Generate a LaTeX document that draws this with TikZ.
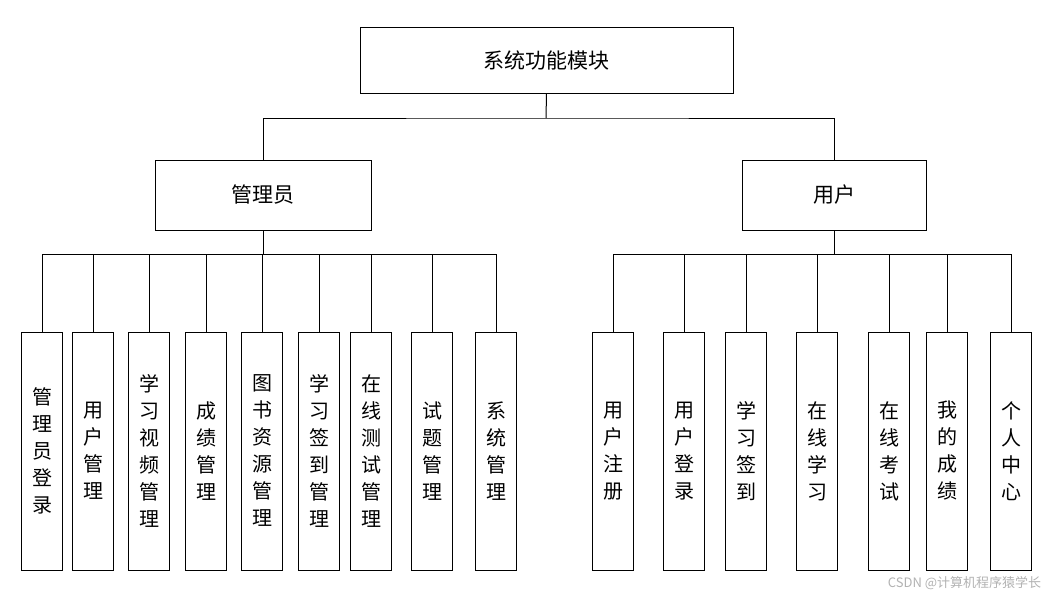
\documentclass[tikz,border=0pt]{standalone}
\usepackage{fontspec}
\setmainfont{Noto Sans CJK SC}
\begin{document}
\begin{tikzpicture}[x=1pt,y=-1pt,line width=1pt,
  box/.style={draw,minimum width=#1,minimum height=0,inner sep=0},
  leaf/.style={draw,minimum width=41pt,minimum height=238pt,inner sep=0,align=center,font=\fontsize{20}{27}\selectfont}]
\useasboundingbox (0,0) rectangle (1049,600);
\node[draw,minimum width=373pt,minimum height=66pt,font=\fontsize{21}{25}\selectfont] (root) at (546.5,60) {系统功能模块};
\node[draw,minimum width=216pt,minimum height=70pt,font=\fontsize{21}{25}\selectfont] (adm) at (263,195) {管理员};
\node[draw,minimum width=184pt,minimum height=70pt,font=\fontsize{21}{25}\selectfont] (usr) at (834,195) {用户};
\coordinate (j) at (546,118);
\draw (root.south) -- (j);
\draw (adm.north) |- (j) -| (usr.north);
\foreach \x/\t [count=\i] in {42/管\\理\\员\\登\\录,93/用\\户\\管\\理,149/学\\习\\视\\频\\管\\理,206/成\\绩\\管\\理,262/图\\书\\资\\源\\管\\理,319/学\\习\\签\\到\\管\\理,371/在\\线\\测\\试\\管\\理,432/试\\题\\管\\理,496/系\\统\\管\\理}{
  \node[leaf] (a\i) at (\x,451) {\t};
  \draw (a\i.north) -- ++(0,-77) -| (adm.south);
}
\foreach \x/\t [count=\i] in {613/用\\户\\注\\册,684/用\\户\\登\\录,746/学\\习\\签\\到,817/在\\线\\学\\习,889/在\\线\\考\\试,947/我\\的\\成\\绩,1011/个\\人\\中\\心}{
  \node[leaf] (b\i) at (\x,451) {\t};
  \draw (b\i.north) -- ++(0,-77) -| (usr.south);
}
\node[anchor=east,text=gray!60,font=\fontsize{13}{15}\selectfont] (wm) at (1045,583) {CSDN @计算机程序猿学长};
\end{tikzpicture}
\end{document}
